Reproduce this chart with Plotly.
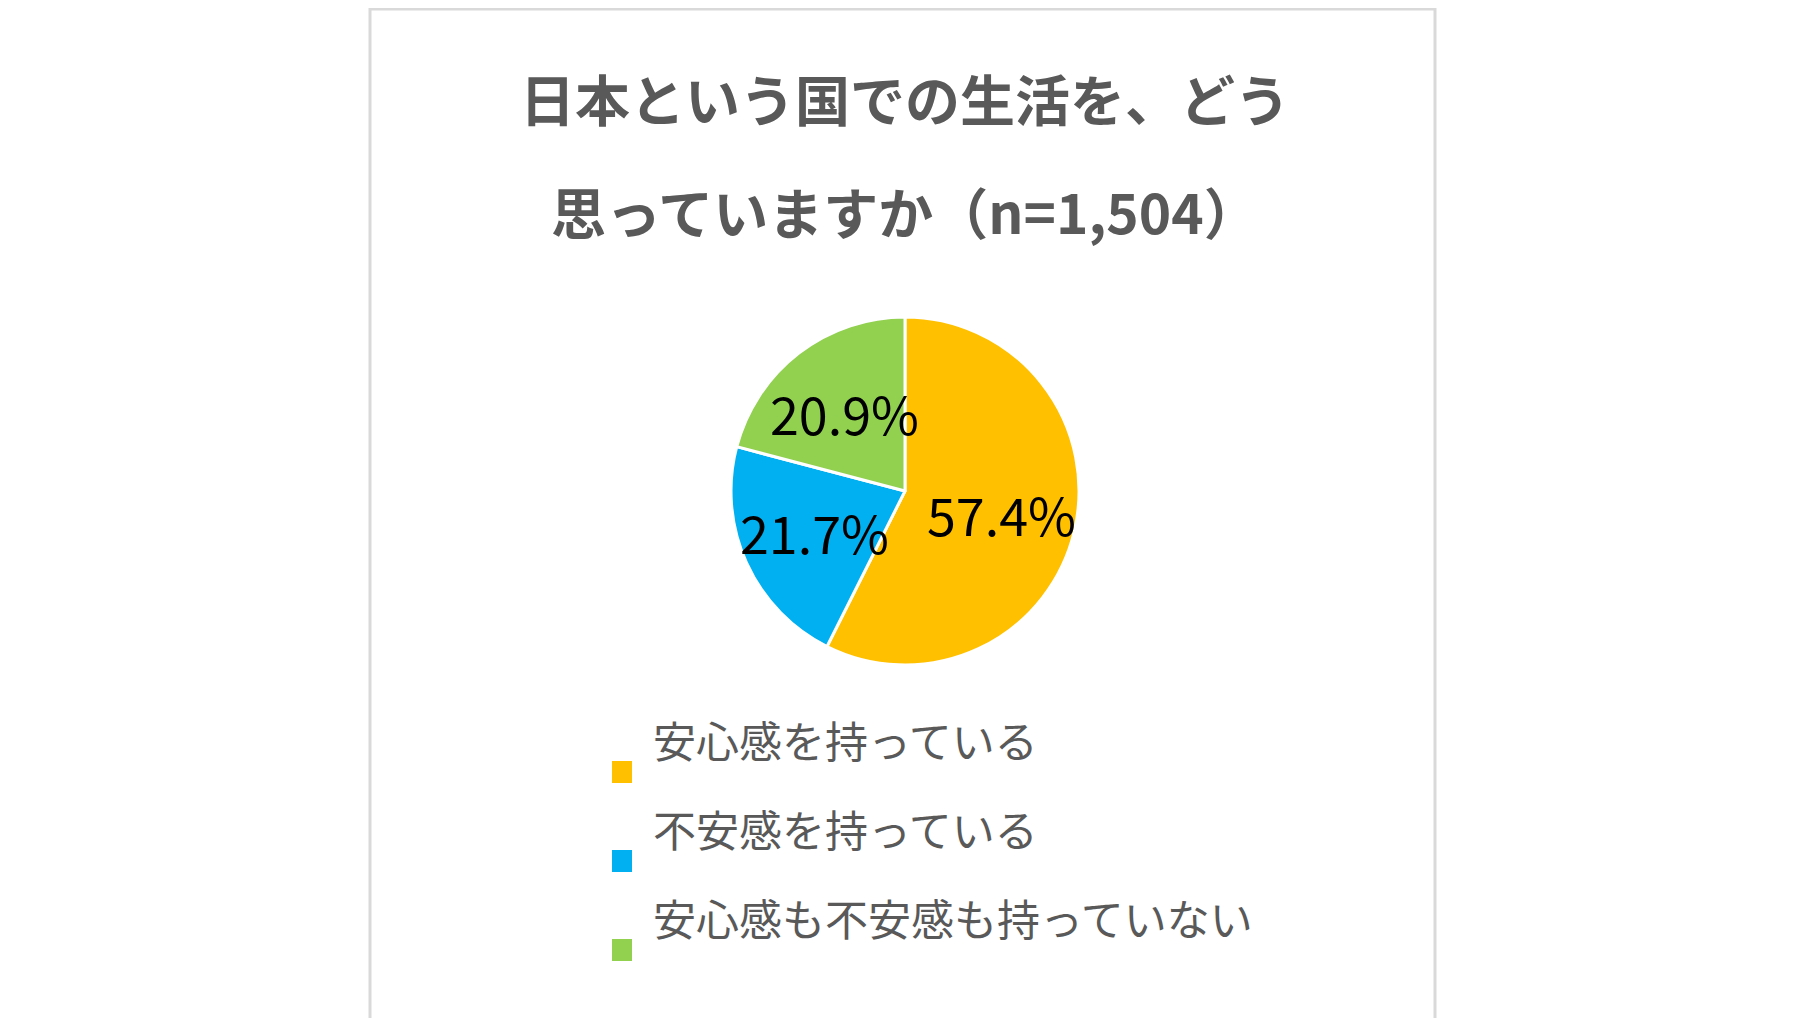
import math
import plotly.graph_objects as go

labels = ["安心感を持っている", "不安感を持っている", "安心感も不安感も持っていない"]
values = [57.4, 21.7, 20.9]
colors = ["#FFC000", "#00B0F0", "#92D050"]
title_lines = ["日本という国での生活を、どう", "思っていますか（n=1,504）"]

W, H = 1807, 1018
FONT = "Noto Sans CJK JP"

# pie placement (paper coords)
cx, cy = 897 / W, 1 - 483 / H
r_px = 174
dom_x = [cx - r_px / W, cx + r_px / W]
dom_y = [cy - r_px / H, cy + r_px / H]

fig = go.Figure()
fig.add_trace(go.Pie(
    labels=labels, values=values, sort=False, direction="clockwise", rotation=0,
    marker=dict(colors=colors, line=dict(color="white", width=3)),
    textinfo="none", hoverinfo="label+percent", showlegend=False,
    domain=dict(x=dom_x, y=dom_y),
))

# percentage labels at slice mid-angles
annotations = []
shapes = []
total = sum(values)
start = 0.0
for v in values:
    mid = start + v / total * 360 / 2
    start += v / total * 360
    a = math.radians(mid)
    rr = 0.57 * r_px
    annotations.append(dict(
        x=cx + rr * math.sin(a) / W, y=cy + rr * math.cos(a) / H,
        xref="paper", yref="paper", showarrow=False,
        text=f"{v:.1f}%", font=dict(family=FONT, size=52, color="black"),
    ))

for i, line in enumerate(title_lines):
    annotations.append(dict(
        x=897 / W, y=1 - (47 + 113 * i) / H, xref="paper", yref="paper",
        showarrow=False, text=f"<b>{line}</b>",
        font=dict(family=FONT, size=55, color="#595959"),
    ))

# legend drawn by hand for the wide Excel-style spacing
for i, (lab, col) in enumerate(zip(labels, colors)):
    yc = 1 - (764 + 89 * i) / H
    shapes.append(dict(type="rect", xref="paper", yref="paper",
                       x0=604 / W, x1=624 / W, y0=yc - 11 / H, y1=yc + 11 / H,
                       fillcolor=col, line=dict(width=0)))
    annotations.append(dict(
        x=643 / W, y=yc, xref="paper", yref="paper", xanchor="left",
        showarrow=False, text=lab,
        font=dict(family=FONT, size=43, color="#595959"),
    ))

shapes.append(dict(type="rect", xref="paper", yref="paper",
                   x0=362 / W, x1=1427 / W, y0=0.006, y1=0.999,
                   line=dict(color="#D9D9D9", width=3)))

fig.update_layout(
    width=W, height=H,
    margin=dict(l=0, r=0, t=0, b=0),
    paper_bgcolor="white", plot_bgcolor="white",
    annotations=annotations, shapes=shapes,
)

fig.write_html("out.html")
